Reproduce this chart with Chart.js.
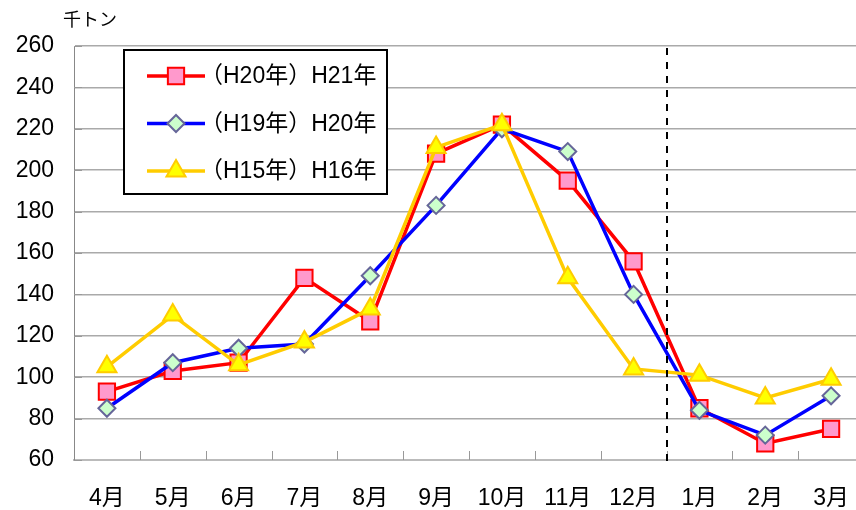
<!DOCTYPE html>
<html>
<head>
<meta charset="utf-8">
<script src="https://cdn.jsdelivr.net/npm/chart.js@4/dist/chart.umd.min.js"></script>
<style>
  html, body { margin: 0; padding: 0; background: #fff; overflow: hidden; }
  #wrap { position: relative; width: 866px; height: 510px; }
</style>
</head>
<body>
<div id="wrap"><canvas id="chart"></canvas></div>
<script>
// data
var months = ['4月', '5月', '6月', '7月', '8月', '9月', '10月', '11月', '12月', '1月', '2月', '3月'];
var labelH21 = '（H20年）H21年';
var labelH20 = '（H19年）H20年';
var labelH16 = '（H15年）H16年';
var valuesH21 = [93, 103, 107, 148, 127, 208, 222, 195, 156, 85, 68, 75];
var valuesH20 = [85, 107, 114, 116, 149, 183, 220, 209, 140, 84, 72, 91];
var valuesH16 = [105, 130, 106, 117, 133, 211, 222, 148, 104, 101, 90, 99];
var yMin = 60, yMax = 260, yStep = 20;
var unitLabel = '千トン';
var splitAfter = '12月'; // dashed line between 12月 and 1月

var FONT = '"Liberation Sans", "Noto Sans CJK JP", sans-serif';
Chart.defaults.font.family = FONT;
Chart.defaults.color = '#000';

// dashed separator, inner tick marks, unit label, legend box
var extras = {
    id: 'extras',
    afterDatasetsDraw: function (chart) {
        var ctx = chart.ctx;
        var x = chart.scales.x, y = chart.scales.y;
        var area = chart.chartArea;
        ctx.save();

        // inner tick marks on the x axis (between categories)
        ctx.strokeStyle = '#999';
        ctx.lineWidth = 1;
        for (var i = 1; i < months.length; i++) {
            var px = Math.round((x.getPixelForTick(i - 1) + x.getPixelForTick(i)) / 2) + 0.5;
            ctx.beginPath();
            ctx.moveTo(px, area.bottom);
            ctx.lineTo(px, area.bottom - 9);
            ctx.stroke();
        }
        // inner tick marks on the y axis
        for (var v = yMin; v <= yMax; v += yStep) {
            var py = Math.round(y.getPixelForValue(v)) + 0.5;
            ctx.beginPath();
            ctx.moveTo(area.left, py);
            ctx.lineTo(area.left + 8, py);
            ctx.stroke();
        }

        // dashed separator
        var k = months.indexOf(splitAfter);
        var sx = Math.round((x.getPixelForTick(k) + x.getPixelForTick(k + 1)) / 2);
        ctx.strokeStyle = '#000';
        ctx.lineWidth = 2;
        ctx.setLineDash([7, 7]);
        ctx.beginPath();
        ctx.moveTo(sx, area.top + 2);
        ctx.lineTo(sx, area.bottom + 3);
        ctx.stroke();
        ctx.setLineDash([]);

        // unit label above the y axis
        ctx.fillStyle = '#000';
        ctx.font = '18px ' + FONT;
        ctx.textAlign = 'left';
        ctx.textBaseline = 'middle';
        ctx.fillText(unitLabel, area.left - 11, 21);

        // legend box inside the plot
        var bx = area.left + 50, by = area.top + 4, bw = 263, bh = 144;
        ctx.fillStyle = '#fff';
        ctx.fillRect(bx, by, bw, bh);
        ctx.strokeStyle = '#000';
        ctx.lineWidth = 2;
        ctx.strokeRect(bx, by, bw, bh);

        ctx.font = '23px ' + FONT;
        chart.data.datasets.forEach(function (ds, j) {
            var ly = by + 26 + j * 47.5;
            ctx.strokeStyle = ds.borderColor;
            ctx.lineWidth = ds.borderWidth;
            ctx.beginPath();
            ctx.moveTo(bx + 23, ly);
            ctx.lineTo(bx + 81, ly);
            ctx.stroke();
            ctx.fillStyle = ds.pointBackgroundColor;
            ctx.strokeStyle = ds.pointBorderColor;
            ctx.lineWidth = ds.pointBorderWidth;
            Chart.helpers.drawPoint(ctx, {
                pointStyle: ds.pointStyle,
                radius: ds.pointRadius,
                rotation: 0,
                borderWidth: ds.pointBorderWidth
            }, bx + 52, ly);
            ctx.fillStyle = '#000';
            ctx.textBaseline = 'middle';
            ctx.fillText(ds.label, bx + 76, ly + 1);
        });
        ctx.restore();
    }
};

var ctx = document.getElementById('chart').getContext('2d');
var chart = new Chart(ctx, {
    type: 'line',
    data: {
        labels: months,
        datasets: [{
            label: labelH21,
            data: valuesH21,
            borderColor: '#ff0000',
            borderWidth: 3.5,
            pointStyle: 'rect',
            pointRadius: 11.5,
            pointBackgroundColor: '#ff99cc',
            pointBorderColor: '#ff0000',
            pointBorderWidth: 2,
            order: 3
        },
        {
            label: labelH20,
            data: valuesH20,
            borderColor: '#0000ff',
            borderWidth: 3.5,
            pointStyle: 'rectRot',
            pointRadius: 8.5,
            pointBackgroundColor: '#ccffcc',
            pointBorderColor: '#666699',
            pointBorderWidth: 2,
            order: 2
        },
        {
            label: labelH16,
            data: valuesH16,
            borderColor: '#ffcc00',
            borderWidth: 3.5,
            pointStyle: 'triangle',
            pointRadius: 11,
            pointBackgroundColor: '#ffff00',
            pointBorderColor: '#ffcc00',
            pointBorderWidth: 2,
            order: 1
        }]
    },
    options: {
        responsive: true,
        maintainAspectRatio: false,
        animation: false,
        layout: { autoPadding: false, padding: { top: 46, right: 2, left: 0, bottom: 0 } },
        elements: { line: { tension: 0, fill: false } },
        scales: {
            x: {
                offset: true,
                grid: { display: false, drawTicks: false, offset: true },
                border: { color: '#bbbbbb', width: 2 },
                ticks: { font: { size: 23 }, padding: 25, maxRotation: 0, autoSkip: false },
                afterFit: function (scale) {
                    scale.height = 50;
                    scale.paddingLeft = 0;
                    scale.paddingRight = 0;
                }
            },
            y: {
                min: yMin,
                max: yMax,
                grid: {
                    drawTicks: false,
                    color: function (c) { return c.tick && c.tick.value === yMin ? 'rgba(0,0,0,0)' : '#aaaaaa'; },
                    lineWidth: 1.5
                },
                border: { color: '#888888', width: 1 },
                ticks: { stepSize: yStep, font: { size: 23 }, padding: 20 },
                afterFit: function (scale) { scale.width = 74; }
            }
        },
        plugins: {
            legend: { display: false },
            tooltip: { enabled: false }
        }
    },
    plugins: [extras]
});
</script>
</body>
</html>
